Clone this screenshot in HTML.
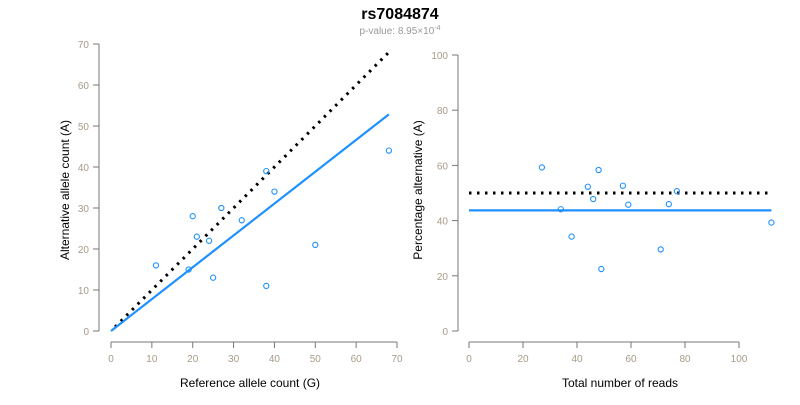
<!DOCTYPE html>
<html><head><meta charset="utf-8"><style>
body{margin:0;background:#fff;font-family:"Liberation Sans",sans-serif}
svg text{font-family:"Liberation Sans",sans-serif}
</style></head><body>
<svg id="c" width="800" height="400">
<text x="400" y="19" text-anchor="middle" font-size="16" font-weight="bold" fill="#000">rs7084874</text>
<text x="400" y="34" text-anchor="middle" font-size="10" fill="#999">p-value: 8.95×10<tspan dy="-4" font-size="7">-4</tspan></text>
<text transform="translate(69,190) rotate(-90)" text-anchor="middle" font-size="12" fill="#000">Alternative allele count (A)</text>
<text x="250" y="387" text-anchor="middle" font-size="12" fill="#000">Reference allele count (G)</text>
<text transform="translate(422,190) rotate(-90)" text-anchor="middle" font-size="12" fill="#000">Percentage alternative (A)</text>
<text x="620" y="387" text-anchor="middle" font-size="12" fill="#000">Total number of reads</text>
</svg>
<script>
const refCounts=[11,19,20,21,24,25,27,32,38,40,38,50,68];
const altCounts=[16,15,28,23,22,13,30,27,39,34,11,21,44];
const leftXTicks=[0,10,20,30,40,50,60,70];
const leftYTicks=[0,10,20,30,40,50,60,70];
const rightXTicks=[0,20,40,60,80,100];
const rightYTicks=[0,20,40,60,80,100];
const fitSlope=0.777;
const fitPct=43.7;
const nullPct=50;

const svg=document.getElementById('c');
const NS='http://www.w3.org/2000/svg';
function mk(t,a){const e=document.createElementNS(NS,t);for(const k in a)e.setAttribute(k,a[k]);svg.appendChild(e);return e;}
const TICK='#777', LAB='#a89a88', BLUE='#1e90ff';

const lx=v=>111+v*4.086, ly=v=>331-v*4.1;
const rx=v=>469+v*2.7, ry=v=>331-v*2.76;

function axes(xs,ys,xt,yt,yAxisX,xAxisY,pfx){
  let l=mk('line',{x1:yAxisX,x2:yAxisX,y1:ys(yt[0]),y2:ys(yt[yt.length-1]),stroke:TICK});
  
  yt.forEach(v=>{
    let t=mk('line',{x1:yAxisX-6,x2:yAxisX,y1:ys(v),y2:ys(v),stroke:TICK});
    
    let s=mk('text',{x:yAxisX-10,y:ys(v)+4,'text-anchor':'end','font-size':10,fill:LAB});
    s.textContent=v;
    
  });
  let a=mk('line',{x1:xs(xt[0]),x2:xs(xt[xt.length-1]),y1:xAxisY,y2:xAxisY,stroke:TICK});
  
  xt.forEach(v=>{
    let t=mk('line',{x1:xs(v),x2:xs(v),y1:xAxisY,y2:xAxisY+6,stroke:TICK});
    
    let s=mk('text',{x:xs(v),y:xAxisY+20,'text-anchor':'middle','font-size':10,fill:LAB});
    s.textContent=v;
    
  });
}
axes(lx,ly,leftXTicks,leftYTicks,99,342,'left');
axes(rx,ry,rightXTicks,rightYTicks,458,342,'right');

const maxG=Math.max(...refCounts);
let d=mk('line',{x1:lx(1),y1:ly(1),x2:lx(maxG),y2:ly(maxG),stroke:'#000','stroke-width':3,'stroke-dasharray':'2.5 5.5'});

let f=mk('line',{x1:lx(0),y1:ly(0),x2:lx(maxG),y2:ly(maxG*fitSlope),stroke:BLUE,'stroke-width':2.2});


const totals=refCounts.map((g,i)=>g+altCounts[i]);
const maxT=Math.max(...totals);
let d2=mk('line',{x1:rx(0),y1:ry(nullPct),x2:rx(maxT),y2:ry(nullPct),stroke:'#000','stroke-width':3,'stroke-dasharray':'2.5 5.5'});

let f2=mk('line',{x1:rx(0),y1:ry(fitPct),x2:rx(maxT),y2:ry(fitPct),stroke:BLUE,'stroke-width':2.2});


refCounts.forEach((g,i)=>{
  const a=altCounts[i];
  let p=mk('circle',{cx:lx(g),cy:ly(a),r:2.6,fill:'none',stroke:BLUE,'stroke-width':1.1});
  
  const t=g+a, pct=a/t*100;
  let q=mk('circle',{cx:rx(t),cy:ry(pct),r:2.6,fill:'none',stroke:BLUE,'stroke-width':1.1});
  
});
</script>
</body></html>
